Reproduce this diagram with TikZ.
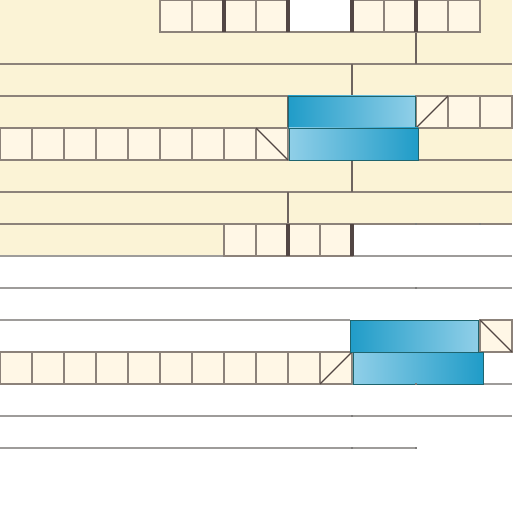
\documentclass[tikz,border=0pt]{standalone}
\usepackage{xcolor}
\usetikzlibrary{positioning,calc}

\definecolor{barcream}{RGB}{251,243,214}
\definecolor{cellcream}{RGB}{255,247,230}
\definecolor{edgegray}{RGB}{140,130,122}
\definecolor{jointgray}{RGB}{110,100,95}
\definecolor{sepdark}{RGB}{82,70,68}
\definecolor{guidegray}{RGB}{158,156,154}
\definecolor{bluedark}{RGB}{32,156,200}
\definecolor{bluemid}{RGB}{80,172,212}
\definecolor{bluelight}{RGB}{144,207,232}
\definecolor{blueedge}{RGB}{30,100,110}

\begin{document}
\begin{tikzpicture}[
        x=1cm, y=-1cm,
        cell/.style={
            draw=edgegray,
            fill=cellcream,
            line width=1.2pt,
            minimum size=1cm,
            inner sep=0pt,
            outer sep=0pt
        },
        bluebar/.style={
            draw=blueedge,
            line width=0.4pt,
            minimum height=1cm,
            inner sep=0pt,
            outer sep=0pt
        },
        darktoright/.style={bluebar, left color=bluedark, middle color=bluemid, right color=bluelight},
        lighttoright/.style={bluebar, left color=bluelight, middle color=bluemid, right color=bluedark},
        rule/.style={draw=edgegray, line width=1.2pt},
        guide/.style={draw=guidegray, line width=0.9pt},
        joint/.style={draw=jointgray, line width=1.2pt},
        heavysep/.style={draw=sepdark, line width=3.2pt},
        slash/.style={draw=sepdark, line width=1pt},
        nick/.style={draw=guidegray!80!black, line width=1.6pt}
    ]

    \useasboundingbox (0,0) rectangle (16,16);

    % cream bars and the gaps in them
    \fill[barcream] (0,0) rectangle (16,8);
    \fill[white] (9,0) rectangle (11,1);
    \fill[white] (11,7) rectangle (16,8);

    % bar edges
    \draw[rule] (5,1) -- (15,1);
    \foreach \y in {2,...,7}
        \draw[rule] (0,\y) -- (16,\y);

    % empty lanes below
    \foreach \y in {8,9,12,13}
        \draw[guide] (0,\y) -- (16,\y);
    \draw[guide] (0,10) -- (10.94,10);
    \draw[guide] (0,14) -- (13,14);

    % joints between bars
    \draw[joint] (13,1) -- (13,2);
    \draw[joint] (11,2) -- (11,3);
    \draw[joint] (9,3) -- (9,4);
    \draw[joint] (11,5) -- (11,6);
    \draw[joint] (9,6) -- (9,7);

    % cells
    \foreach \i in {5,6,7,8,11,12,13,14}
        \node[cell] (top-\i) at (\i+0.5,0.5) {};
    \foreach \i in {14,15}
        \node[cell] (upper-\i) at (\i+0.5,3.5) {};
    \foreach \i in {0,...,7}
        \node[cell] (mid-\i) at (\i+0.5,4.5) {};
    \foreach \i in {7,...,10}
        \node[cell] (low-\i) at (\i+0.5,7.5) {};
    \foreach \i in {0,...,9}
        \node[cell] (base-\i) at (\i+0.5,11.5) {};

    % split cells
    \node[cell] (cutA) at (13.5,3.5) {};
    \node[cell] (cutB) at (8.5,4.5) {};
    \node[cell] (cutC) at (15.5,10.5) {};
    \node[cell] (cutD) at (10.5,11.5) {};
    \draw[slash] (cutA.south west) -- (cutA.north east);
    \draw[slash] (cutB.north west) -- (cutB.south east);
    \draw[slash] (cutC.north west) -- (cutC.south east);
    \draw[slash] (cutD.south west) -- (cutD.north east);

    % blue blocks
    \node[darktoright, minimum width=3.97cm] (blueA) at (10.985,3.5) {};
    \node[lighttoright, minimum width=4.03cm] (blueB) at (11.045,4.5) {};
    \node[darktoright, minimum width=4cm] (blueC) at (12.94,10.5) {};
    \node[lighttoright, minimum width=4.06cm] (blueD) at (13.06,11.5) {};

    % heavy separators
    \foreach \x in {7,9,11,13}
        \draw[heavysep] (top-5.north -| \x,0) -- (\x,1);
    \foreach \x in {9,11}
        \draw[heavysep] (\x,7) -- (\x,8);

    % leftover nicks on the lane lines
    \foreach \x/\y in {13/7,15/7,13/9,13/12,11/13,11/14,13/14}
        \draw[nick] (\x,\y-0.03) -- (\x,\y+0.03);

\end{tikzpicture}
\end{document}
